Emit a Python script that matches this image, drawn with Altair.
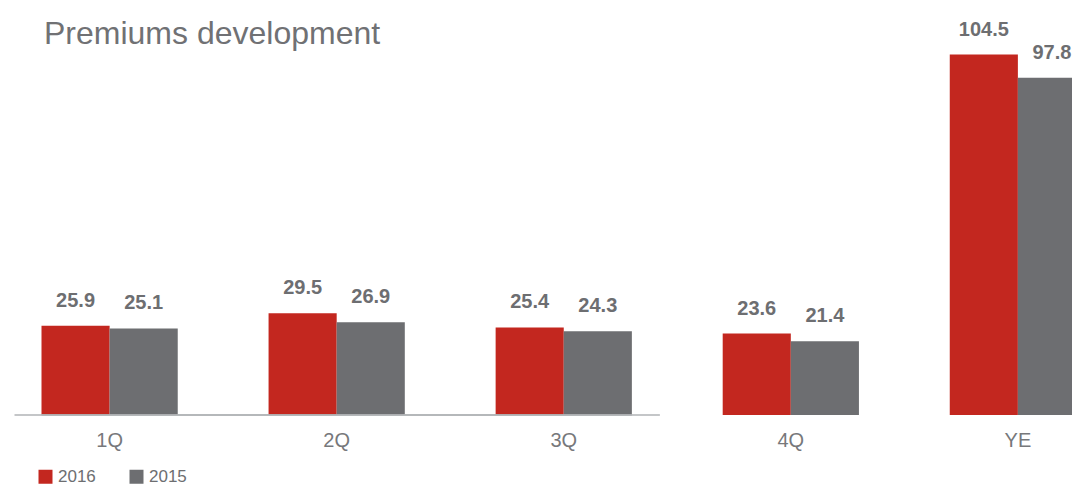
import altair as alt
import pandas as pd

periods = ["1Q", "2Q", "3Q", "4Q", "YE"]
years = ["2016", "2015"]
values_2016 = [25.9, 29.5, 25.4, 23.6, 104.5]
values_2015 = [25.1, 26.9, 24.3, 21.4, 97.8]
axis_line_span = ["1Q", "3Q"]

rows = []
for p, a, b in zip(periods, values_2016, values_2015):
    rows.append({"period": p, "year": "2016", "value": a})
    rows.append({"period": p, "year": "2015", "value": b})
df = pd.DataFrame(rows)
line_df = pd.DataFrame([{"start": axis_line_span[0], "end": axis_line_span[1], "base": 0}])

RED = "#c3271f"
GRAY = "#6d6e71"
TEXT = "#6d6e71"
LINE = "#b1b3b6"
NARROW = "Liberation Sans Narrow, Liberation Sans, Arial"

x_scale = alt.Scale(domain=periods, range=[33.5, 1078], paddingInner=0.4, paddingOuter=0)
y_scale = alt.Scale(domain=[0, 118])
x_axis = alt.Axis(title=None, domain=False, ticks=False, labelAngle=0, labelFont=NARROW,
                  labelFontSize=20, labelColor="#77787b", labelPadding=15)

bars = alt.Chart(df).mark_bar().encode(
    x=alt.X("period:N", sort=periods, scale=x_scale, axis=x_axis),
    xOffset=alt.XOffset("year:N", sort=years, scale=alt.Scale(paddingInner=0, paddingOuter=0)),
    y=alt.Y("value:Q", scale=y_scale, axis=None),
    color=alt.Color("year:N", sort=years,
                    scale=alt.Scale(domain=years, range=[RED, GRAY]),
                    legend=alt.Legend(title=None, orient="none", legendX=29, legendY=460,
                                      direction="horizontal", symbolType="square",
                                      symbolSize=196, symbolStrokeWidth=0, symbolOpacity=1,
                                      labelFont=NARROW, labelFontSize=17, labelColor=TEXT,
                                      labelOffset=4, columnPadding=32, padding=0)),
)

labels = alt.Chart(df).mark_text(font="Liberation Sans", fontWeight="bold", fontSize=20,
                                 color=TEXT, baseline="alphabetic", dy=-19).encode(
    x=alt.X("period:N", sort=periods, scale=x_scale, axis=x_axis),
    xOffset=alt.XOffset("year:N", sort=years, scale=alt.Scale(paddingInner=0, paddingOuter=0)),
    y=alt.Y("value:Q", scale=y_scale, axis=None),
    text=alt.Text("value:Q", format=".1f"),
)

# baseline segment: from the 1Q band start to past the 3Q band end
rule_right = alt.Chart(line_df).mark_rule(color=LINE, strokeWidth=1.5, x2Offset=28).encode(
    x=alt.X("start:N", scale=x_scale, axis=x_axis, bandPosition=0),
    x2=alt.X2("end:N", bandPosition=1),
    y=alt.Y("base:Q", scale=y_scale, axis=None),
)
# extension to the left of the 1Q band
rule_left = alt.Chart(line_df).mark_rule(color=LINE, strokeWidth=1.5, x2Offset=-27).encode(
    x=alt.X("end:N", scale=x_scale, axis=x_axis, bandPosition=1),
    x2=alt.X2("start:N", bandPosition=0),
    y=alt.Y("base:Q", scale=y_scale, axis=None),
)

chart = alt.layer(bars, labels, rule_right, rule_left).properties(
    width=1064,
    height=407,
    padding={"left": 0, "top": 0, "right": 0, "bottom": 70},
    autosize=alt.AutoSizeParams(type="none"),
    title=alt.Title("Premiums development", anchor="start", font="Liberation Sans",
                    fontSize=32, fontWeight="normal", color="#707174",
                    baseline="alphabetic", offset=0, dx=36, dy=68),
).configure_view(stroke=None)

chart.save("out.html", embed_options={"renderer": "svg", "actions": False})
